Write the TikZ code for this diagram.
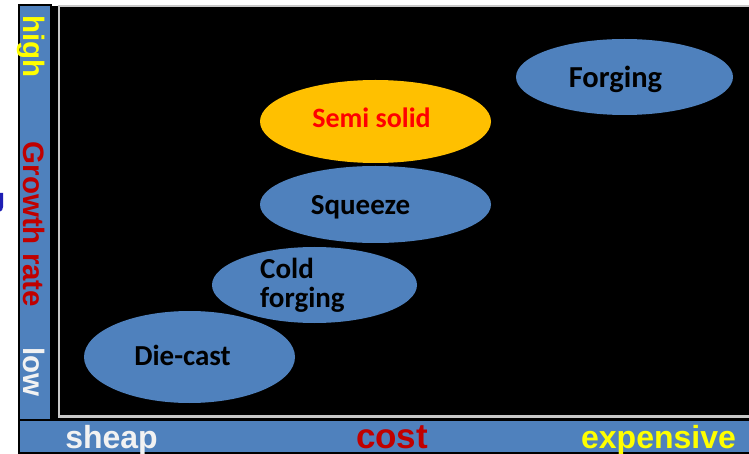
\documentclass[tikz,border=0pt]{standalone}
\usepackage{fontspec}
\usetikzlibrary{shapes.geometric}
\newfontfamily\calibfont{Carlito}
\newfontfamily\arialfont{Liberation Sans}
\definecolor{barblue}{HTML}{4F81BD}
\definecolor{ellblue}{HTML}{4F81BD}
\definecolor{semiorange}{HTML}{FFC000}
\definecolor{darkred}{HTML}{C00000}
\definecolor{brightred}{HTML}{FF0000}
\definecolor{paleyellow}{HTML}{FFFF00}
\definecolor{offwhite}{HTML}{F2F2F2}
\definecolor{framegray}{HTML}{C8C8C8}
\definecolor{markblue}{HTML}{1E1EB4}
\tikzset{
  blob/.style={ellipse, draw=none, inner sep=0pt},
  proc/.style={font=\calibfont\bfseries\fontsize{29}{35}\selectfont, text=black, inner sep=0pt, anchor=base},
  axisv/.style={font=\arialfont\bfseries\fontsize{29.5}{35}\selectfont, inner sep=0pt, rotate=-90, anchor=base west},
  axish/.style={font=\arialfont\bfseries\fontsize{32}{38}\selectfont, inner sep=0pt, anchor=base}
}
\begin{document}
\begin{tikzpicture}[x=1pt,y=-1pt]
\useasboundingbox (0,0) rectangle (749,454);
\fill[white] (0,0) rectangle (749,454);
% black panel with gray frame
\fill[black] (50,6) rectangle (760,418.5);
\draw[framegray, line width=2.5pt] (59,6.2) rectangle (760,416.3);
% left bar
\fill[black] (18,4) rectangle (52,421);
\fill[barblue] (20,6) rectangle (49.5,418.5);
% bottom bar
\fill[black] (18,418.5) rectangle (760,454);
\fill[barblue] (20,421) rectangle (760,451.5);
% small blue fragment at left edge
\fill[markblue] (0,193) -- (3,193) -- (3,207) .. controls (3,210) and (1.5,211) .. (0,211.5) -- cycle;
% ellipses
\node[blob, fill=ellblue, minimum width=217pt, minimum height=76pt] (forg) at (624.5,77) {};
\node[blob, fill=semiorange, minimum width=231pt, minimum height=83pt] (semi) at (375.5,121.5) {};
\node[blob, fill=ellblue, minimum width=231pt, minimum height=77pt] (sque) at (375.5,204.5) {};
\node[blob, fill=ellblue, minimum width=205pt, minimum height=76pt] (cold) at (314.5,285) {};
\node[blob, fill=ellblue, minimum width=211pt, minimum height=92pt] (die) at (189.5,357) {};
% ellipse texts
\node[proc, font=\calibfont\bfseries\fontsize{30.5}{36}\selectfont] (tforg) at (615.5,88) {Forging};
\node[proc, text=brightred, font=\calibfont\bfseries\fontsize{28}{34}\selectfont] (tsemi) at (371.5,127.5) {Semi solid};
\node[proc] (tsque) at (360.5,215) {Squeeze};
\node[proc, anchor=base west] (tcold1) at (260,278) {Cold};
\node[proc, anchor=base west] (tcold2) at (260,307) {forging};
\node[proc] (tdie) at (182.5,365) {Die-cast};
% vertical axis labels
\node[axisv, text=paleyellow] (vhigh) at (23.5,15) {high};
\node[axisv, text=darkred] (vgrow) at (23.5,141.5) {Growth rate};
\node[axisv, text=offwhite] (vlow) at (23.5,347.5) {low};
% horizontal axis labels
\node[axish, text=offwhite] (hcheap) at (111.5,448) {sheap};
\node[axish, text=darkred, font=\arialfont\bfseries\fontsize{35}{40}\selectfont] (hcost) at (392,448) {cost};
\node[axish, text=paleyellow] (hexp) at (658.5,448) {expensive};
\end{tikzpicture}
\end{document}
